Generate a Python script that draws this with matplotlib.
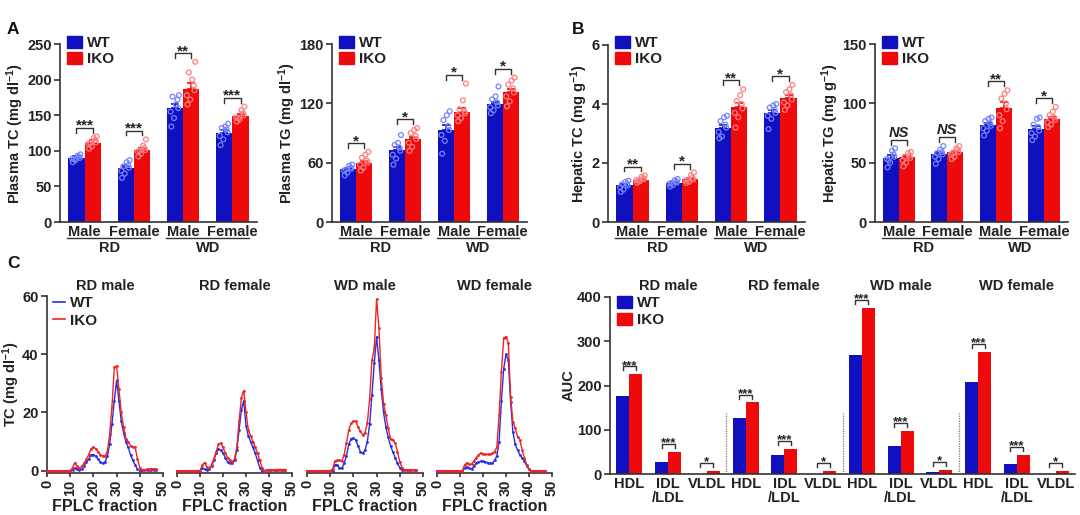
import numpy as np
import matplotlib
matplotlib.use("Agg")
import matplotlib.pyplot as plt
import matplotlib.transforms as mtransforms
from matplotlib.patches import Patch
from matplotlib.lines import Line2D

# ---------------------------------------------------------------- data
sex_labels = ["Male", "Female", "Male", "Female"]
diet_labels = ["RD", "WD"]
legend_labels = ["WT", "IKO"]

# Panel A, plasma TC (mg/dl)
ptc_wt_mean = [90.5, 76.0, 159.5, 125.7]
ptc_iko_mean = [111.6, 101.3, 187.0, 149.0]
ptc_wt_sem = [2.0, 3.0, 6.0, 3.0]
ptc_iko_sem = [3.0, 3.0, 8.0, 2.0]
ptc_wt_pts = [[84, 92, 87, 95, 89, 93, 90, 88],
              [62, 80, 68, 87, 72, 84, 76, 78],
              [134, 172, 146, 178, 155, 165, 160, 176],
              [108, 130, 116, 138, 121, 134, 126, 132]]
ptc_iko_pts = [[103, 115, 106, 120, 110, 118, 112, 111],
               [92, 104, 96, 116, 99, 107, 101, 100],
               [165, 192, 172, 225, 178, 200, 185, 210],
               [141, 153, 144, 162, 147, 157, 150, 146]]
ptc_sig = ["***", "***", "**", "***"]

# Panel A, plasma TG (mg/dl)
ptg_wt_mean = [53.4, 72.6, 93.5, 118.9]
ptg_iko_mean = [60.0, 83.8, 111.4, 131.0]
ptg_wt_sem = [1.5, 3.0, 4.5, 2.5]
ptg_iko_sem = [2.0, 2.5, 4.0, 3.0]
ptg_wt_pts = [[47, 55, 50, 58, 52, 57, 54, 53],
              [58, 75, 64, 88, 68, 80, 72, 78],
              [69, 97, 82, 112, 88, 108, 93, 103],
              [110, 121, 113, 137, 116, 127, 118, 124]]
ptg_iko_pts = [[52, 62, 55, 71, 58, 68, 60, 65],
               [72, 87, 76, 95, 80, 93, 84, 90],
               [102, 112, 105, 140, 108, 123, 110, 114],
               [117, 135, 122, 146, 127, 143, 131, 139]]
ptg_sig = ["*", "*", "*", "*"]

# Panel B, hepatic TC (mg/g)
htc_wt_mean = [1.25, 1.33, 3.19, 3.71]
htc_iko_mean = [1.44, 1.45, 3.90, 4.21]
htc_wt_sem = [0.05, 0.03, 0.09, 0.09]
htc_iko_sem = [0.03, 0.05, 0.14, 0.10]
htc_wt_pts = [[1.02, 1.30, 1.10, 1.40, 1.18, 1.36, 1.24, 1.28],
              [1.20, 1.38, 1.25, 1.46, 1.30, 1.42, 1.34, 1.32],
              [2.84, 3.30, 2.90, 3.60, 3.05, 3.55, 3.20, 3.42],
              [3.15, 3.80, 3.50, 4.00, 3.60, 3.95, 3.70, 3.88]]
htc_iko_pts = [[1.33, 1.49, 1.38, 1.58, 1.42, 1.53, 1.45, 1.40],
               [1.32, 1.50, 1.36, 1.68, 1.40, 1.58, 1.44, 1.42],
               [3.20, 4.00, 3.55, 4.50, 3.70, 4.30, 3.85, 4.10],
               [3.80, 4.30, 3.95, 4.65, 4.05, 4.50, 4.15, 4.40]]
htc_sig = ["**", "*", "**", "*"]

# Panel B, hepatic TG (mg/g)
htg_wt_mean = [54.3, 57.1, 81.6, 78.0]
htg_iko_mean = [54.5, 58.8, 96.3, 86.4]
htg_wt_sem = [1.8, 1.5, 1.5, 2.5]
htg_iko_sem = [1.5, 1.2, 5.0, 2.0]
htg_wt_pts = [[46, 57, 50, 62, 53, 60, 55, 52],
              [49, 59, 53, 64, 55, 61, 57, 58],
              [73, 83, 77, 88, 79, 87, 81, 85],
              [69, 80, 72, 88, 75, 87, 77, 82]]
htg_iko_pts = [[47, 56, 50, 59, 52, 58, 54, 55],
               [53, 61, 55, 64, 57, 62, 59, 58],
               [79, 100, 85, 111, 90, 108, 95, 104],
               [80, 88, 82, 97, 84, 93, 86, 90]]
htg_sig = ["NS", "NS", "**", "*"]

# Panel C, FPLC profiles (TC, mg/dl), fractions 0..47
fplc_titles = ["RD male", "RD female", "WD male", "WD female"]
rdm_wt = [0, 0, 0, 0, 0, 0, 0, 0, 0, 0, 0,
          0.3, 0.8, 0.5, 0.3, 0.5, 1.5, 3.0, 4.0, 5.5, 5.5,
          5.0, 4.0, 3.0, 2.5, 3.0, 5.0, 9.0, 16.0, 24.0, 31.0,
          24.0, 17.0, 13.0, 10.0, 8.0, 5.5, 3.5, 2.0, 0.5, 0.0,
          0.1, 0.2, 0.2, 0.3, 0.3, 0.3, 0.3]
rdm_iko = [0, 0, 0, 0, 0, 0, 0, 0, 0, 0, 0,
           1.0, 2.8, 1.5, 0.8, 1.5, 2.5, 4.0, 5.5, 7.5, 8.2,
           7.5, 6.5, 5.5, 5.0, 5.0, 6.5, 12.5, 22.0, 35.5, 36.0,
           28.0, 20.0, 15.0, 11.0, 10.0, 8.5, 8.2, 8.0, 4.0, 1.0,
           0.2, 0.3, 0.5, 0.5, 0.6, 0.6, 0.6]
rdf_wt = [0, 0, 0, 0, 0, 0, 0, 0, 0, 0, 0,
          0.8, 0.5, 0.3, 0.5, 1.5, 3.5, 6.0, 7.5, 7.0, 6.0,
          4.5, 3.0, 2.5, 2.5, 3.5, 7.0, 14.0, 21.0, 24.0, 15.5,
          12.0, 10.0, 8.0, 6.0, 3.5, 1.0, 0.0, 0.0, 0.1, 0.1,
          0.2, 0.2, 0.2, 0.3, 0.3, 0.3, 0.3]
rdf_iko = [0, 0, 0, 0, 0, 0, 0, 0, 0, 0, 0,
           2.0, 2.8, 1.2, 0.8, 2.0, 4.0, 6.5, 9.0, 9.5, 8.0,
           6.0, 4.5, 3.5, 3.0, 4.0, 8.0, 17.0, 25.0, 27.5, 20.0,
           14.0, 12.0, 10.0, 8.0, 6.0, 3.5, 1.0, 0.0, 0.2, 0.3,
           0.3, 0.3, 0.4, 0.4, 0.4, 0.4, 0.4]
wdm_wt = [0, 0, 0, 0, 0, 0, 0, 0, 0, 0, 0,
          0.0, 2.0, 2.0, 1.0, 0.8, 2.5, 5.0, 9.0, 11.0, 11.2,
          10.5, 8.5, 6.5, 6.0, 7.0, 10.0, 16.0, 26.0, 37.0, 46.0,
          38.0, 28.0, 20.0, 15.0, 11.5, 8.5, 6.5, 4.5, 2.5, 1.0,
          0.3, 0.2, 0.2, 0.2, 0.2, 0.2, 0.2]
wdm_iko = [0, 0, 0, 0, 0, 0, 0, 0, 0, 0, 0,
           0.5, 3.3, 3.5, 3.5, 3.3, 5.5, 9.5, 14.0, 16.3, 17.0,
           17.0, 15.0, 13.5, 12.3, 13.0, 16.3, 24.7, 38.0, 42.0, 59.0,
           49.0, 32.0, 23.0, 19.0, 14.5, 11.0, 10.5, 9.5, 6.5, 3.0,
           1.0, 0.3, 0.3, 0.3, 0.3, 0.3, 0.3]
wdf_wt = [0, 0, 0, 0, 0, 0, 0, 0, 0, 0, 0, 0,
          0.8, 1.2, 0.8, 0.5, 1.5, 2.5, 3.0, 3.2, 3.2,
          3.0, 2.8, 2.5, 2.5, 3.5, 5.0, 10.0, 24.0, 35.0, 40.0,
          38.0, 23.6, 13.4, 9.0, 7.2, 5.5, 4.4, 3.3, 1.6, 0.5,
          0, 0, 0, 0, 0, 0, 0]
wdf_iko = [0, 0, 0, 0, 0, 0, 0, 0, 0, 0, 0, 0,
           2.0, 2.7, 2.2, 2.2, 3.3, 4.4, 5.3, 6.1, 5.8,
           5.6, 5.6, 5.6, 6.0, 6.5, 8.0, 19.0, 34.0, 45.6, 46.0,
           44.0, 25.4, 16.8, 14.6, 11.7, 10.6, 7.2, 4.4, 2.1, 0.5,
           0, 0, 0, 0, 0, 0, 0]
fplc_wt = [rdm_wt, rdf_wt, wdm_wt, wdf_wt]
fplc_iko = [rdm_iko, rdf_iko, wdm_iko, wdf_iko]

# Panel C, AUC
auc_groups = ["RD male", "RD female", "WD male", "WD female"]
auc_classes = ["HDL", "IDL\n/LDL", "VLDL"]
auc_wt = [176, 28, 1, 125.6, 43, 1, 268, 64, 5, 207, 22, 1]
auc_iko = [225, 49, 7.5, 161.6, 55.6, 6, 376, 98, 10, 276, 44, 6]
auc_sig = ["***", "***", "*", "***", "***", "*",
           "***", "***", "*", "***", "***", "*"]

# ---------------------------------------------------------------- style
plt.rcParams["font.family"] = ["Liberation Sans", "DejaVu Sans"]
plt.rcParams["font.weight"] = "bold"
plt.rcParams["mathtext.fontset"] = "custom"
plt.rcParams["mathtext.rm"] = "Liberation Sans:bold"
plt.rcParams["mathtext.bf"] = "Liberation Sans:bold"
plt.rcParams["mathtext.it"] = "Liberation Sans:italic:bold"
plt.rcParams["mathtext.default"] = "rm"

BLUE = "#1010c0"
RED = "#ee0a0a"
LBLUE = "#7383ff"
LRED = "#ff7f7f"
LINE_BLUE = "#2a2ee0"
LINE_RED = "#f02424"
TXT = "#222222"
AX = "#333333"
FS = 10.5
JIT = np.array([-0.075, 0.05, -0.02, 0.08, -0.09, 0.02, 0.065, -0.05])

W, H = 1080, 515
fig = plt.figure(figsize=(W / 100, H / 100), dpi=100)


def add_ax(l, t, r, b):
    return fig.add_axes([l / W, 1 - b / H, (r - l) / W, (b - t) / H])


def style_axes(ax):
    for s in ("top", "right"):
        ax.spines[s].set_visible(False)
    for s in ("left", "bottom"):
        ax.spines[s].set_linewidth(1.2)
        ax.spines[s].set_color(AX)
    ax.tick_params(axis="y", direction="out", length=4, width=1.2, color=AX,
                   labelsize=FS, pad=2, labelcolor=TXT)
    ax.tick_params(axis="x", length=0, labelsize=FS, pad=2, labelcolor=TXT)


def bold_ticks(ax):
    for t in ax.get_xticklabels() + ax.get_yticklabels():
        t.set_fontweight("bold")


def square_legend(ax, box, lx_px, ly_px, spacing):
    l, t, r, b = box
    lg = ax.legend(handles=[Patch(color=BLUE), Patch(color=RED)], labels=legend_labels,
                   loc="upper left",
                   bbox_to_anchor=((lx_px - l) / (r - l), (b - ly_px) / (b - t)),
                   frameon=False, fontsize=11, handlelength=1.0, handleheight=0.85,
                   handletextpad=0.3, labelspacing=spacing, borderpad=0,
                   borderaxespad=0, prop={"weight": "bold", "size": 11})
    for t in lg.get_texts():
        t.set_color(TXT)


def bar_panel(box, wt_mean, iko_mean, wt_sem, iko_sem, wt_pts, iko_pts, sig,
              ymax, yticks, ylabel):
    l, t, r, b = box
    ax = add_ax(*box)
    style_axes(ax)
    n = len(wt_mean)
    x = np.arange(n)
    w = 0.33
    ax.bar(x - w / 2, wt_mean, w, color=BLUE, zorder=2)
    ax.bar(x + w / 2, iko_mean, w, color=RED, zorder=2)
    ax.errorbar(x - w / 2, wt_mean, yerr=[np.zeros(n), wt_sem], fmt="none",
                ecolor=BLUE, elinewidth=1.2, capsize=3, capthick=1.2, zorder=3)
    ax.errorbar(x + w / 2, iko_mean, yerr=[np.zeros(n), iko_sem], fmt="none",
                ecolor=RED, elinewidth=1.2, capsize=3, capthick=1.2, zorder=3)
    for i in range(n):
        ax.scatter(x[i] - w / 2 + JIT[:len(wt_pts[i])], wt_pts[i], s=12,
                   facecolors="none", edgecolors=LBLUE, linewidths=0.9, zorder=4)
        ax.scatter(x[i] + w / 2 + JIT[:len(iko_pts[i])], iko_pts[i], s=12,
                   facecolors="none", edgecolors=LRED, linewidths=0.9, zorder=4)
        top = max(max(wt_pts[i]), max(iko_pts[i]),
                  wt_mean[i] + wt_sem[i], iko_mean[i] + iko_sem[i])
        yb = top + 0.05 * ymax
        leg = 0.028 * ymax
        ax.plot([x[i] - w / 2, x[i] - w / 2, x[i] + w / 2, x[i] + w / 2],
                [yb - leg, yb, yb, yb - leg], color=AX, lw=1.0, zorder=5,
                clip_on=False)
        if sig[i] == "NS":
            ax.annotate("NS", (x[i], yb), xytext=(0, 2), textcoords="offset points",
                        ha="center", va="baseline", fontsize=FS, fontstyle="italic",
                        fontweight="bold", color=TXT)
        else:
            ax.annotate(sig[i], (x[i], yb), xytext=(0, -1.5),
                        textcoords="offset points", ha="center", va="baseline",
                        fontsize=11, fontweight="bold", color=TXT)
    ax.set_xlim(-0.5, n - 0.5)
    ax.set_ylim(0, ymax)
    ax.set_yticks(yticks)
    ax.set_xticks(x)
    ax.set_xticklabels(sex_labels)
    bold_ticks(ax)
    ax.set_ylabel(ylabel, fontsize=FS, color=TXT, labelpad=1, fontweight="bold")
    h = b - t
    trans = mtransforms.blended_transform_factory(ax.transData, ax.transAxes)
    y_line = -16.0 / h
    y_txt = -26.5 / h
    for g, lab in enumerate(diet_labels):
        ax.plot([2 * g - 0.35, 2 * g + 1.33], [y_line, y_line], transform=trans,
                color=AX, lw=1.0, clip_on=False)
        ax.text(2 * g + 0.5, y_txt, lab, transform=trans, ha="center", va="center",
                fontsize=FS, fontweight="bold", color=TXT)
    square_legend(ax, box, l + 7, 36, 0.1)
    return ax


bar_panel((60, 44, 257, 222), ptc_wt_mean, ptc_iko_mean, ptc_wt_sem, ptc_iko_sem,
          ptc_wt_pts, ptc_iko_pts, ptc_sig, 250, [0, 50, 100, 150, 200, 250],
          r"Plasma TC (mg dl$^{-1}$)")
bar_panel((332, 44, 527, 222), ptg_wt_mean, ptg_iko_mean, ptg_wt_sem, ptg_iko_sem,
          ptg_wt_pts, ptg_iko_pts, ptg_sig, 180, [0, 60, 120, 180],
          r"Plasma TG (mg dl$^{-1}$)")
bar_panel((608, 45, 805, 222), htc_wt_mean, htc_iko_mean, htc_wt_sem, htc_iko_sem,
          htc_wt_pts, htc_iko_pts, htc_sig, 6, [0, 2, 4, 6],
          r"Hepatic TC (mg g$^{-1}$)")
bar_panel((875, 44, 1068, 222), htg_wt_mean, htg_iko_mean, htg_wt_sem, htg_iko_sem,
          htg_wt_pts, htg_iko_pts, htg_sig, 150, [0, 50, 100, 150],
          r"Hepatic TG (mg g$^{-1}$)")

# ---------------------------------------------------------------- FPLC panels
fplc_boxes = [(47, 296, 163, 473), (177, 296, 292, 473),
              (307, 296, 423, 473), (437, 296, 552, 473)]
for k, box in enumerate(fplc_boxes):
    ax = add_ax(*box)
    style_axes(ax)
    frac = np.arange(len(fplc_wt[k]))
    ax.plot(frac, fplc_wt[k], color=LINE_BLUE, lw=1.0, marker="o", ms=2.0,
            mew=0, zorder=3, clip_on=False)
    ax.plot(frac, fplc_iko[k], color=LINE_RED, lw=1.0, marker="o", ms=2.0,
            mew=0, zorder=3, clip_on=False)
    ax.set_xlim(0, 50)
    ax.set_ylim(-0.8, 60)
    ax.set_xticks([0, 10, 20, 30, 40, 50])
    ax.set_xticklabels(["0", "10", "20", "30", "40", "50"], rotation=90)
    ax.tick_params(axis="x", direction="out", length=3, width=1.2, color=AX,
                   labelsize=10.5, pad=2)
    ax.set_xlabel("FPLC fraction", fontsize=11.5, color=TXT, labelpad=2,
                  fontweight="bold")
    ax.set_title(fplc_titles[k], fontsize=FS, color=TXT, pad=4.5,
                 fontweight="bold")
    if k == 0:
        ax.set_yticks([0, 20, 40, 60])
        ax.set_ylabel(r"TC (mg dl$^{-1}$)", fontsize=FS, color=TXT, labelpad=0,
                      fontweight="bold")
        lg = ax.legend(handles=[Line2D([], [], color=LINE_BLUE, lw=1.2),
                                Line2D([], [], color=LINE_RED, lw=1.2)],
                       labels=legend_labels, loc="upper left",
                       bbox_to_anchor=(0.05, 1.0), frameon=False,
                       handlelength=0.8, handletextpad=0.3, labelspacing=0.24,
                       borderpad=0, borderaxespad=0,
                       prop={"weight": "bold", "size": 11})
        for t in lg.get_texts():
            t.set_color(TXT)
    else:
        ax.spines["left"].set_visible(False)
        ax.set_yticks([])
    bold_ticks(ax)

# ---------------------------------------------------------------- AUC panel
auc_box = (610, 297, 1075, 474)
ax = add_ax(*auc_box)
style_axes(ax)
pos = np.arange(len(auc_wt))
w = 0.335
ax.bar(pos - w / 2, auc_wt, w, color=BLUE, zorder=2)
ax.bar(pos + w / 2, auc_iko, w, color=RED, zorder=2)
for i in range(len(pos)):
    yb = max(auc_wt[i], auc_iko[i]) + 18
    ax.plot([pos[i] - w / 2, pos[i] - w / 2, pos[i] + w / 2, pos[i] + w / 2],
            [yb - 9, yb, yb, yb - 9], color=AX, lw=1.0, zorder=5, clip_on=False)
    ax.annotate(auc_sig[i], (pos[i], yb), xytext=(0, -1.6), textcoords="offset points",
                ha="center", va="baseline", fontsize=9.5, fontweight="bold", color=TXT)
ax.vlines([2.5, 5.5, 8.5], 0, 137, colors="#777777", linestyles=(0, (1, 1)),
          lw=0.9, zorder=1)
ax.set_xlim(-0.5, len(pos) - 0.5)
ax.set_ylim(0, 400)
ax.set_yticks([0, 100, 200, 300, 400])
ax.set_xticks(pos)
ax.set_xticklabels(auc_classes * len(auc_groups), linespacing=1.05)
bold_ticks(ax)
ax.set_ylabel("AUC", fontsize=FS, color=TXT, labelpad=1, fontweight="bold")
trans = mtransforms.blended_transform_factory(ax.transData, ax.transAxes)
for g, title in enumerate(auc_groups):
    ax.text(3 * g + 1, (474 - 290) / 177.0, title, transform=trans, ha="center",
            va="baseline", fontsize=FS, fontweight="bold", color=TXT)
square_legend(ax, auc_box, 617, 296, 0.17)

# ---------------------------------------------------------------- panel letters
for lab, xp, yp in [("A", 7, 29), ("B", 572, 29), ("C", 7, 263)]:
    fig.text(xp / W, 1 - yp / H, lab, fontsize=12.5, fontweight="bold", color="#111111",
             ha="left", va="center")

fig.savefig("out.png", dpi=100)
